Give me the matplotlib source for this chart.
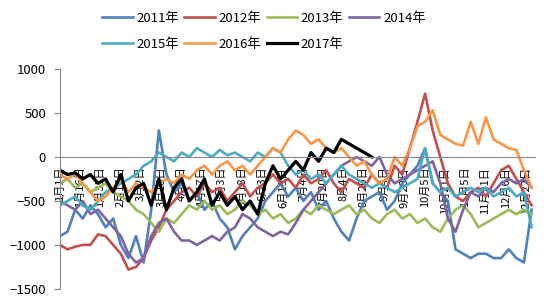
import numpy as np
import matplotlib
matplotlib.use('Agg')
from matplotlib import pyplot as plt

plt.rcParams['font.family'] = ['Noto Sans CJK SC', 'DejaVu Sans']

# values, one sample every ~4 trading days
y2011 = [-900, -850, -600, -700, -550, -650, -800, -700, -1000, -1150, -900, -1200, -600, 300, -200,
         -400, -300, -500, -400, -600, -500, -700, -800, -1050, -900, -800, -700, -500, -400, -300,
         -450, -350, -500, -400, -600, -500, -700, -850, -950, -700, -500, -450, -400, -600, -500,
         -300, -200, -100, 100, -300, -400, -500, -1050, -1100, -1150, -1100, -1100, -1150, -1150, -1050,
         -1150, -1200, -600]
y2012 = [-1000, -1050, -1020, -1000, -1000, -880, -900, -1000, -1100, -1280, -1250, -1150, -950, -800, -600,
         -500, -400, -350, -450, -300, -400, -350, -500, -400, -300, -450, -350, -300, -200, -300,
         -250, -350, -200, -300, -250, -150, -300, -400, -250, -300, -350, -200, -300, -350, -100,
         -200, 100, 400, 720, 300, 0, -300, -450, -500, -400, -350, -450, -300, -150, -100,
         -250, -400, -550]
y2013 = [-300, -250, -350, -300, -400, -350, -300, -400, -450, -500, -600, -650, -750, -850, -700,
         -750, -650, -550, -600, -500, -600, -550, -650, -600, -500, -550, -650, -600, -700, -650,
         -750, -700, -600, -650, -550, -600, -650, -600, -550, -650, -600, -700, -750, -650, -600,
         -700, -650, -750, -700, -800, -850, -700, -600, -550, -650, -800, -750, -700, -650, -600,
         -650, -600, -650]
y2014 = [-500, -550, -600, -500, -650, -600, -700, -800, -900, -1100, -1200, -1150, -900, -750, -700,
         -850, -950, -950, -1000, -950, -900, -950, -850, -800, -650, -700, -800, -850, -900, -850,
         -880, -750, -600, -500, -400, -300, -200, -100, -50, 0, -50, -100, 0, -200, -300,
         -250, -200, -150, -100, -50, -300, -700, -850, -600, -400, -450, -350, -400, -300, -250,
         -300, -250, -350]
y2015 = [-550, -500, -450, -550, -600, -500, -400, -350, -300, -250, -200, -100, -50, 50, 0,
         -50, 50, 0, 100, 50, 0, 80, 20, 50, 0, -50, 50, 0, 100, 50,
         -100, -200, -150, -250, -200, -300, -200, -100, -200, -250, -300, -350, -300, -350, -400,
         -350, -300, -250, 100, -300, -400, -350, -450, -400, -350, -400, -350, -450, -400, -350,
         -450, -400, -800]
y2016 = [-200, -250, -200, -300, -400, -500, -450, -350, -250, -400, -300, -350, -400, -300, -250,
         -300, -200, -250, -150, -100, -200, -100, -50, -150, -100, -200, -100, 0, 100, 50,
         200, 300, 250, 150, 200, 100, 50, 100, 0, -100, -50, -200, -300, -250, 0,
         -100, 100, 350, 400, 530, 250, 200, 150, 130, 400, 150, 450, 200, 150, 100,
         80, -150, -350]
y2017 = [-150, -200, -180, -250, -200, -300, -250, -400, -200, -500, -350, -300, -550, -250, -600,
         -350, -250, -500, -400, -250, -550, -400, -550, -450, -600, -500, -650, -300, -100, -250,
         -150, -50, -150, 50, -50, 100, 50, 200, 150, 100, 50, 0]

years = ['2011年', '2012年', '2013年', '2014年', '2015年', '2016年', '2017年']
series = [y2011, y2012, y2013, y2014, y2015, y2016, y2017]
line_colors = ['#4F81BD', '#C0504D', '#9BBB59', '#8064A2', '#4BACC6', '#F79646', '#000000']

tick_labels = ['1月1日', '1月16日', '1月31日', '2月15日', '3月2日', '3月18日', '4月2日', '4月17日',
               '5月3日', '5月18日', '6月3日', '6月19日', '7月4日', '7月20日', '8月4日', '8月20日',
               '9月4日', '9月20日', '10月5日', '10月21日', '11月5日', '11月21日', '12月6日', '12月22日']

step = 4.13  # trading days between samples

fig = plt.figure(figsize=(5.5, 3.0), dpi=100)
ax = fig.add_axes([0.109, 0.037, 0.864, 0.733])

handles = []
for vals, lab, c in zip(series, years, line_colors):
    x = np.arange(len(vals)) * step
    lw = 2.3 if c == '#000000' else 1.9
    h, = ax.plot(x, vals, color=c, lw=lw, label=lab)
    handles.append(h)

ax.spines['top'].set_visible(False)
ax.spines['right'].set_visible(False)
ax.spines['bottom'].set_position(('data', 0))
ax.spines['bottom'].set_color('#888888')
ax.spines['left'].set_color('#888888')

ax.set_xlim(0, 258)
ax.set_ylim(-1500, 1000)
ax.set_yticks([-1500, -1000, -500, 0, 500, 1000])
ax.set_xticks(np.arange(len(tick_labels)) * 11)
ax.set_xticklabels(tick_labels, rotation=90, fontsize=8, va='top')
ax.tick_params(axis='x', length=0, pad=7)
ax.tick_params(axis='y', length=4, color='#888888', labelsize=9.5, pad=6)

# legend fills column by column, so reorder to read row by row
order = [0, 4, 1, 5, 2, 6, 3]
fig.legend([handles[i] for i in order], [years[i] for i in order],
           loc='upper center', bbox_to_anchor=(0.48, 1.0), ncol=4, frameon=False,
           fontsize=9.5, handlelength=2.3, handletextpad=0.3, columnspacing=0.4,
           labelspacing=1.0)

fig.savefig('out.png', dpi=100)
